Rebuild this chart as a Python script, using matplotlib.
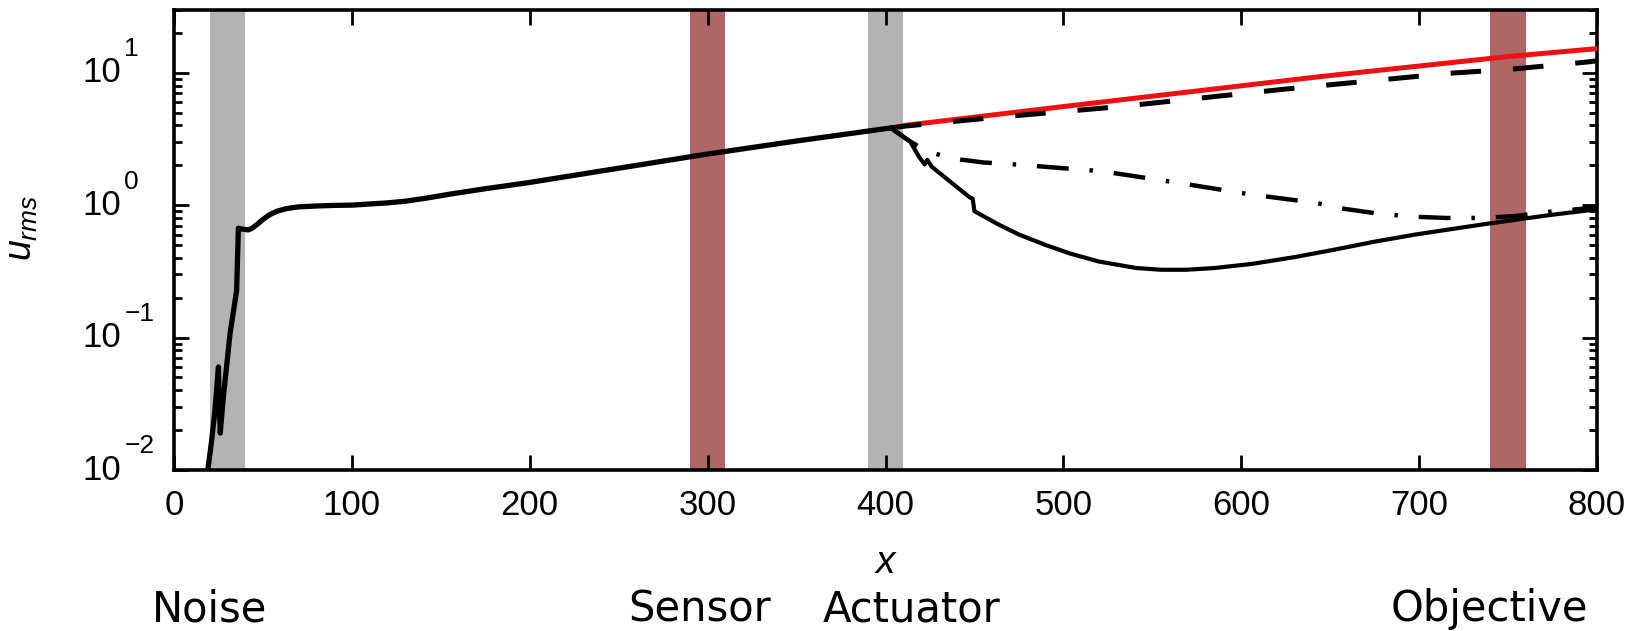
import numpy as np
import matplotlib
matplotlib.use("Agg")
import matplotlib.pyplot as plt
from matplotlib.ticker import LogLocator, NullFormatter, FixedLocator

plt.rcParams['font.family'] = ['Liberation Sans', 'DejaVu Sans']
plt.rcParams['mathtext.fontset'] = 'custom'
plt.rcParams['mathtext.rm'] = 'Liberation Sans'
plt.rcParams['mathtext.it'] = 'Liberation Sans:italic'
plt.rcParams['lines.scale_dashes'] = False

# Upstream (uncontrolled) disturbance growth up to the actuator
x_base = [18, 19, 21, 23, 24.5, 25, 25.5, 26, 27.6, 31.5, 35.2, 36.2, 38, 41.8,
          44, 47, 50, 54, 58, 63, 70, 80, 90, 100, 110, 120, 130, 142, 155, 175,
          198, 250, 299, 350, 400, 403]
u_base = [0.008, 0.01, 0.016, 0.028, 0.05, 0.06, 0.03, 0.019, 0.034, 0.107, 0.226,
          0.67, 0.66, 0.65, 0.67, 0.72, 0.78, 0.85, 0.90, 0.94, 0.97, 0.985, 0.995,
          1.0, 1.02, 1.04, 1.07, 1.13, 1.21, 1.33, 1.47, 1.90, 2.42, 3.05, 3.78, 3.82]

# Downstream of the actuator: uncontrolled continuation (red)
x_unc = [403, 411, 500, 644, 749, 800]
u_unc = [3.82, 4.0, 5.55, 9.33, 13.2, 15.2]

# Dashed case
x_dash = [403, 411, 457, 532, 624, 717, 751, 796, 800]
u_dash = [3.82, 3.95, 4.53, 5.55, 7.5, 9.9, 10.6, 12.1, 12.3]

# Dash-dot case
x_dd = [403, 414, 420, 427, 434, 442, 455, 475, 522, 565, 606, 642, 655, 675, 695,
        715, 736, 755, 773, 800]
u_dd = [3.82, 3.02, 2.7, 2.47, 2.32, 2.21, 2.10, 2.02, 1.80, 1.47, 1.20, 1.04, 0.95,
        0.87, 0.82, 0.80, 0.80, 0.83, 0.89, 0.96]

# Solid controlled case
x_ctl = [403, 414, 419, 422, 423.5, 426, 447.5, 449, 450, 452, 463, 475, 490, 504,
         520, 541, 555, 569, 585, 606, 630, 652, 675, 698, 736, 773, 800]
u_ctl = [3.82, 3.0, 2.3, 2.03, 2.2, 1.95, 1.14, 1.12, 0.90, 0.87, 0.72, 0.60, 0.50,
         0.43, 0.375, 0.335, 0.325, 0.325, 0.335, 0.36, 0.405, 0.46, 0.53, 0.60,
         0.716, 0.84, 0.93]

# Shaded regions
band_names = ['Noise', 'Sensor', 'Actuator', 'Objective']
band_lo = [20, 290, 390, 740]
band_hi = [40, 310, 410, 760]
band_colors = ['#b3b3b3', '#b06666', '#b3b3b3', '#b06666']
name_left_px = [152, 628, 823, 1391]

x_ticks = [0, 100, 200, 300, 400, 500, 600, 700, 800]
y_decades = [-2, -1, 0, 1]

W, H = 1644, 631
fig = plt.figure(figsize=(W / 100, H / 100), dpi=100)
ax = fig.add_axes([174 / W, 1 - 470 / H, (1597 - 174) / W, (470 - 9.5) / H])

for lo, hi, c in zip(band_lo, band_hi, band_colors):
    ax.axvspan(lo, hi, color=c, lw=0, zorder=0)

ax.plot(x_unc, u_unc, color='#ee1111', lw=3.6, zorder=3)
ax.plot(x_dash, u_dash, color='black', lw=3.6, dashes=(22, 23), zorder=4)
ax.plot(x_dd, u_dd, color='black', lw=3.2, dashes=(23, 15, 2.5, 15), zorder=4)
ax.plot(x_ctl, u_ctl, color='black', lw=3.0, zorder=4, solid_joinstyle='round')
ax.plot(x_base, u_base, color='black', lw=3.8, zorder=5, solid_joinstyle='round')

ax.set_yscale('log')
ax.set_xlim(0, 800)
ax.set_ylim(1e-2, 30)

ax.xaxis.set_major_locator(FixedLocator(x_ticks))
ax.set_xticklabels([str(t) for t in x_ticks])
ax.yaxis.set_major_locator(LogLocator(base=10, numticks=10))
ax.yaxis.set_minor_locator(LogLocator(base=10, subs=np.arange(2, 10), numticks=10))
ax.yaxis.set_major_formatter(NullFormatter())
ax.yaxis.set_minor_formatter(NullFormatter())

ax.tick_params(which='both', direction='in', top=True, right=True, width=2)
ax.tick_params(which='major', length=11)
ax.tick_params(which='minor', length=6)
ax.tick_params(axis='x', labelsize=25, pad=14)
for s in ax.spines.values():
    s.set_linewidth(2.6)

# Decade labels on the log axis: base with raised exponent
ytr = ax.get_yaxis_transform()
for d in y_decades:
    ax.text(-0.037, 10.0 ** d, '10', transform=ytr, ha='right', va='center',
            fontsize=25, clip_on=False)
    ax.annotate(str(d).replace('-', '\u2212'), xy=(-0.035, 10.0 ** d), xycoords=ytr,
                xytext=(0, 17), textcoords='offset points',
                ha='left', va='center', fontsize=19, annotation_clip=False)

ax.text(0.5, -0.202, 'x', transform=ax.transAxes, ha='center', va='center',
        fontsize=28, style='italic')
fig.text(22 / W, 1 - 228 / H, r'$u_{rms}$', rotation=90, ha='center', va='center',
         fontsize=27)

for name, px in zip(band_names, name_left_px):
    fig.text(px / W, 1 - 621 / H, name, ha='left', va='baseline', fontsize=30,
             family='DejaVu Sans')

fig.savefig('out.png', dpi=100)
